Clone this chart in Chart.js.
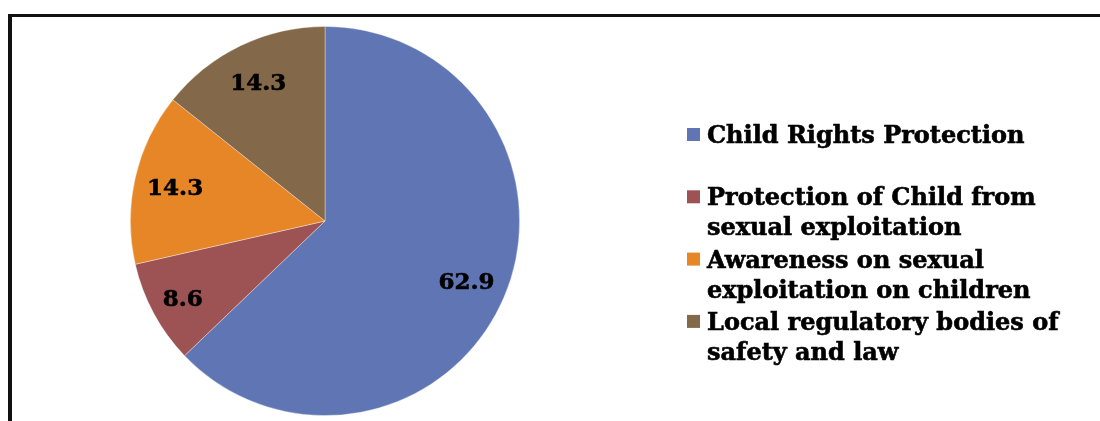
<!DOCTYPE html>
<html>
<head>
<meta charset="utf-8">
<script src="https://cdn.jsdelivr.net/npm/chart.js@4.4.1/dist/chart.umd.min.js"></script>
<style>
  html, body { margin: 0; padding: 0; background: #fff; }
  #wrap { position: relative; width: 1100px; height: 421px; overflow: hidden; }
  #frame { position: absolute; left: 8px; top: 14px; width: 1200px; height: 500px;
           border-top: 3px solid #111; border-left: 4px solid #111; }
  #c { position: absolute; left: 0; top: 0; }
</style>
</head>
<body>
<div id="wrap">
  <div id="frame"></div>
  <canvas id="c" width="1100" height="421"></canvas>
</div>
<script>
"use strict";

// categories (each entry is the legend text, one string per line)
const CATEGORIES = [
  ["Child Rights Protection"],
  ["Protection of Child from", "sexual exploitation"],
  ["Awareness on sexual", "exploitation on children"],
  ["Local regulatory bodies of", "safety and law"],
];
const VALUES = [62.9, 8.6, 14.3, 14.3];
const COLORS = ["#6076b4", "#9d5253", "#e68626", "#836849"];

const FONT = '"DejaVu Serif", Georgia, serif';

// heavy text: fill plus a thin stroke of the same colour
function boldText(ctx, t, x, y) {
  ctx.fillText(t, x, y);
  ctx.strokeText(t, x, y);
}

/* value labels drawn inside each slice */
const sliceLabels = {
  id: "sliceLabels",
  afterDatasetsDraw(chart) {
    const ctx = chart.ctx;
    const meta = chart.getDatasetMeta(0);
    ctx.save();
    ctx.font = "bold 23px " + FONT;
    ctx.fillStyle = ctx.strokeStyle = "#000";
    ctx.lineWidth = 0.6;
    ctx.textAlign = "center";
    ctx.textBaseline = "middle";
    meta.data.forEach((arc, i) => {
      const p = arc.getProps(["x", "y", "startAngle", "endAngle", "outerRadius"], true);
      const mid = (p.startAngle + p.endAngle) / 2;
      const f = VALUES[i] < 10 ? 0.83 : 0.79;
      const r = p.outerRadius * f;
      boldText(ctx, VALUES[i].toFixed(1), p.x + Math.cos(mid) * r, p.y + Math.sin(mid) * r + 2);
    });
    ctx.restore();
  },
};

/* legend on the right, two text lines reserved per entry */
const sideLegend = {
  id: "sideLegend",
  afterDraw(chart) {
    const ctx = chart.ctx;
    const x0 = 687, y0 = 143, item = 62.3, line = 30, box = 13;
    ctx.save();
    ctx.font = "bold 24px " + FONT;
    ctx.lineWidth = 0.6;
    ctx.textBaseline = "alphabetic";
    ctx.textAlign = "left";
    chart.data.labels.forEach((lines, i) => {
      const base = y0 + i * item;
      ctx.fillStyle = COLORS[i];
      ctx.fillRect(x0, base - 15, box, box);
      ctx.fillStyle = ctx.strokeStyle = "#000";
      lines.forEach((t, j) => boldText(ctx, t, x0 + 20, base + j * line));
    });
    ctx.restore();
  },
};

new Chart(document.getElementById("c"), {
  type: "pie",
  data: {
    labels: CATEGORIES,
    datasets: [{
      data: VALUES,
      backgroundColor: COLORS,
      borderColor: "rgba(255,255,255,0.45)",
      borderWidth: 0.8,
    }],
  },
  options: {
    responsive: false,
    animation: false,
    layout: { padding: { left: 130, right: 580, top: 26, bottom: 5 } },
    plugins: { legend: { display: false }, tooltip: { enabled: false } },
  },
  plugins: [sliceLabels, sideLegend],
});
</script>
</body>
</html>
